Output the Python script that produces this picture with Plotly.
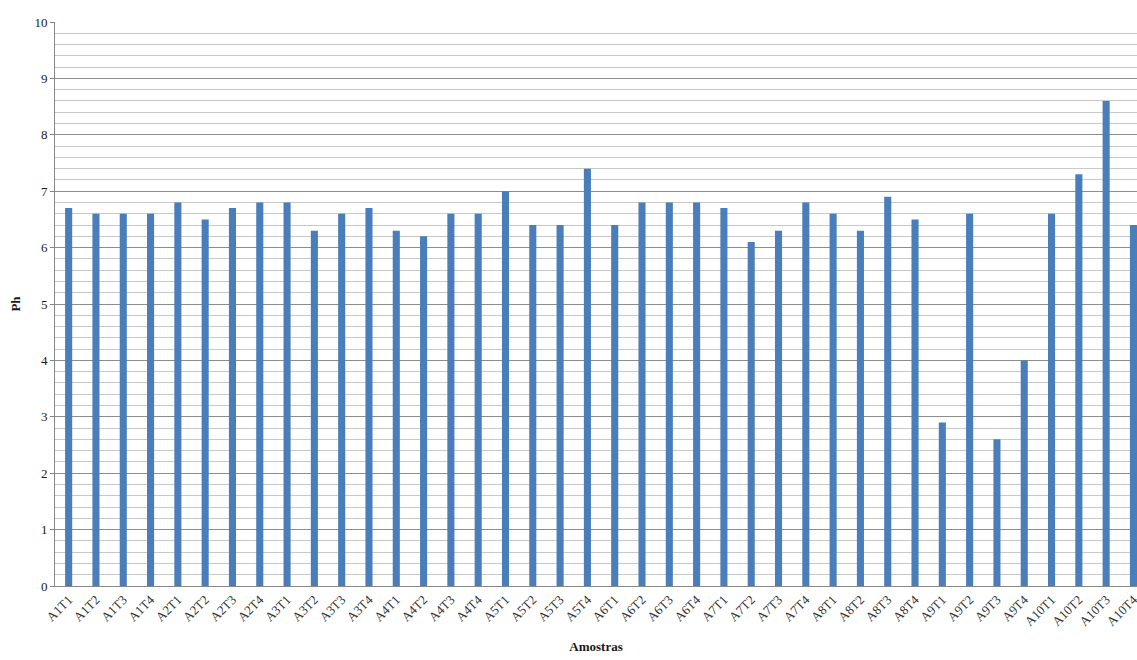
import plotly.graph_objects as go

categories = ["A1T1","A1T2","A1T3","A1T4","A2T1","A2T2","A2T3","A2T4",
              "A3T1","A3T2","A3T3","A3T4","A4T1","A4T2","A4T3","A4T4",
              "A5T1","A5T2","A5T3","A5T4","A6T1","A6T2","A6T3","A6T4",
              "A7T1","A7T2","A7T3","A7T4","A8T1","A8T2","A8T3","A8T4",
              "A9T1","A9T2","A9T3","A9T4","A10T1","A10T2","A10T3","A10T4"]
ph_values = [6.7,6.6,6.6,6.6,6.8,6.5,6.7,6.8,
             6.8,6.3,6.6,6.7,6.3,6.2,6.6,6.6,
             7.0,6.4,6.4,7.4,6.4,6.8,6.8,6.8,
             6.7,6.1,6.3,6.8,6.6,6.3,6.9,6.5,
             2.9,6.6,2.6,4.0,6.6,7.3,8.6,6.4]
y_ticks = [0,1,2,3,4,5,6,7,8,9,10]

fig = go.Figure(go.Bar(x=categories, y=ph_values, marker_color="#4a7ebb",
                       marker_line_width=0, width=0.26))

font = "Liberation Serif, Times New Roman, serif"
fig.update_layout(
    width=1137, height=660,
    margin=dict(l=55, r=0, t=22, b=74),
    paper_bgcolor="white", plot_bgcolor="white",
    showlegend=False,
    font=dict(family=font, color="#1a1a1a"),
)
fig.update_xaxes(
    range=[-0.5, 39.13], tickangle=-45, tickfont=dict(size=13, family=font, color="#333"),
    showline=True, linecolor="#888", linewidth=1, showgrid=False,
    ticks="", automargin=False,
    title=dict(text="<b>Amostras</b>", font=dict(size=13, family=font), standoff=14),
)
fig.update_yaxes(
    range=[0, 10], tickvals=y_ticks, tickfont=dict(size=13, family=font, color="#1a1a1a"),
    showline=True, linecolor="#888", linewidth=1,
    showgrid=True, gridcolor="#8c8c8c", gridwidth=1,
    ticks="outside", ticklen=4, tickcolor="#888", automargin=False,
    minor=dict(dtick=0.2, showgrid=True, gridcolor="#c8c8c8", gridwidth=1),
    zeroline=False,
    title=dict(text="<b>Ph</b>", font=dict(size=13, family=font), standoff=10),
)

fig.write_html("out.html", config={"displayModeBar": False},
               post_script="document.body.style.margin='0';document.body.style.overflow='hidden';")
